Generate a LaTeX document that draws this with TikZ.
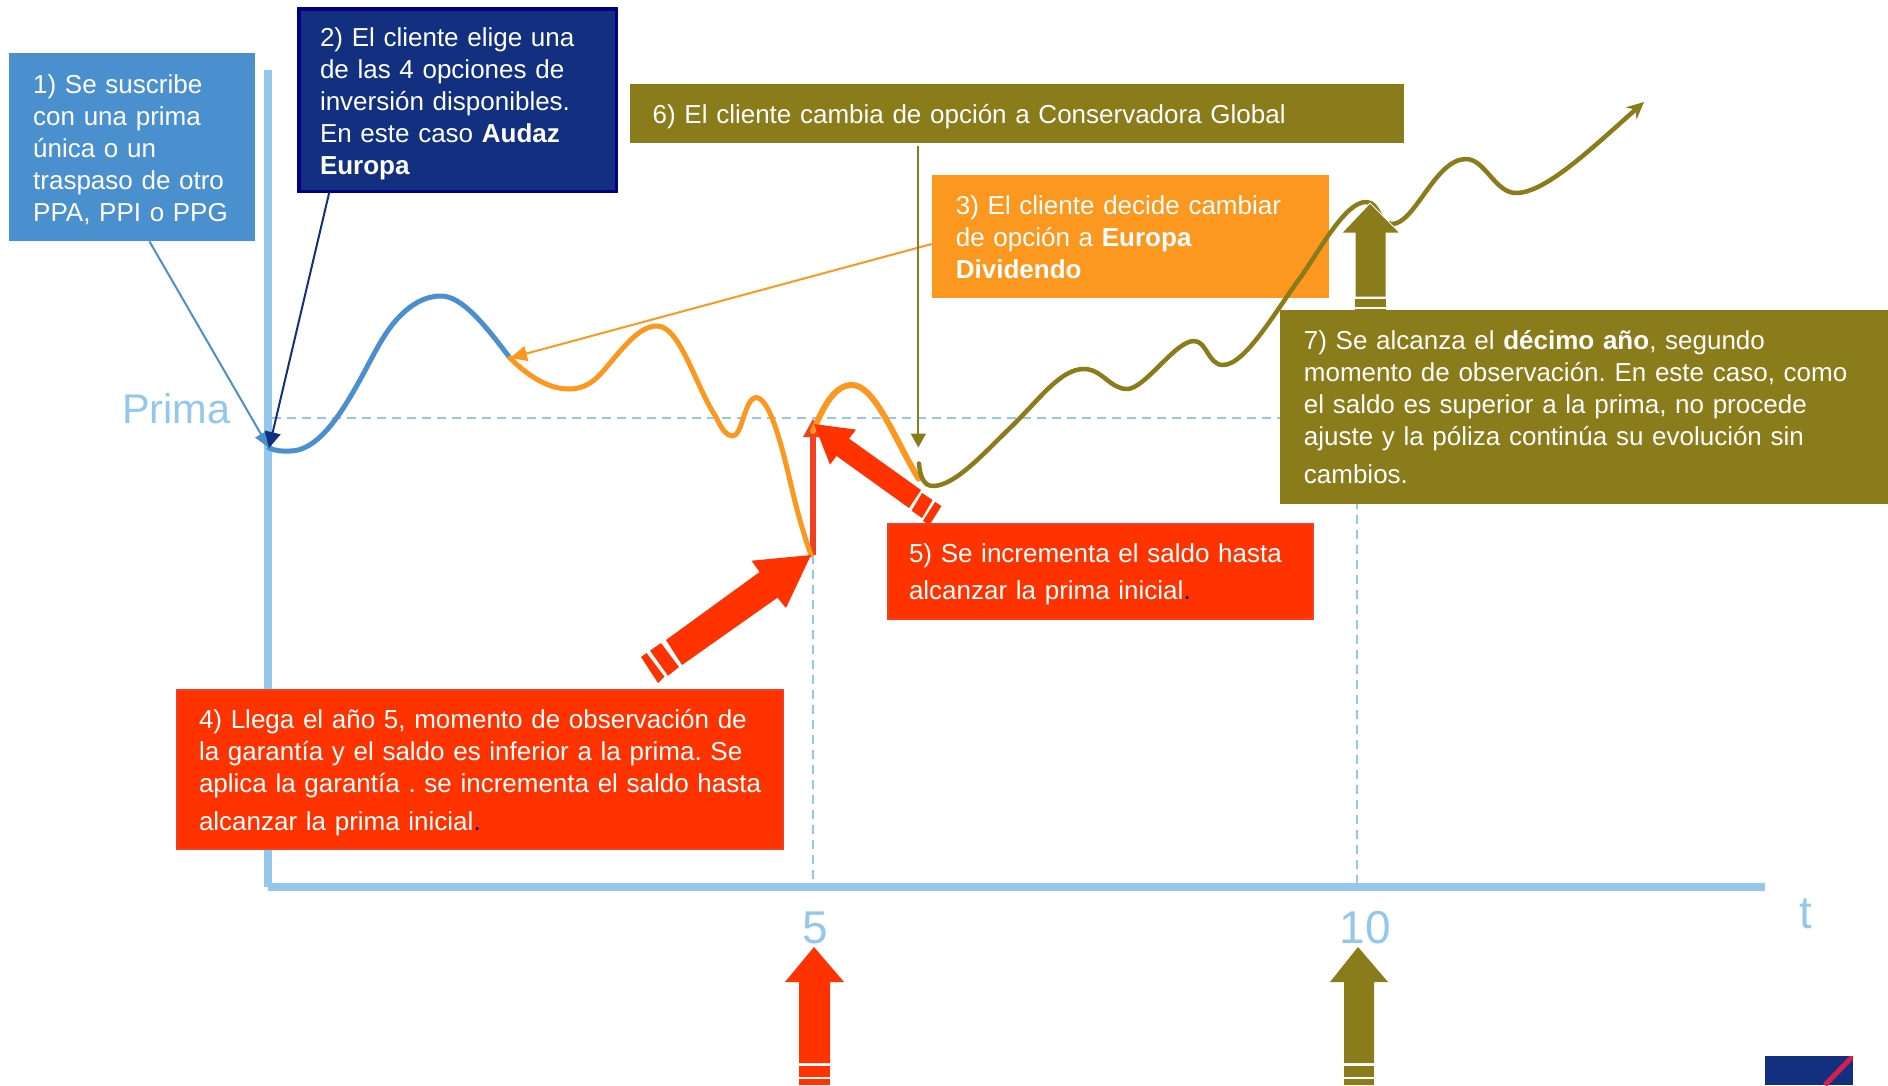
\documentclass[tikz,border=0pt]{standalone}
\usepackage{fontspec}
\setmainfont{Liberation Sans}
\usetikzlibrary{arrows.meta,calc}
\definecolor{axisblue}{HTML}{93C8EC}
\definecolor{boxblue}{HTML}{4B90CE}
\definecolor{navyfill}{HTML}{12307F}
\definecolor{navyline}{HTML}{000080}
\definecolor{olive}{HTML}{8A7C1A}
\definecolor{orangebox}{HTML}{FC9820}
\definecolor{redbox}{HTML}{FF3300}
\definecolor{redline}{HTML}{F04020}
\definecolor{logored}{HTML}{D5204F}
\newcommand{\topstrut}[1]{\rule{0pt}{#1pt}}
\newcommand{\botstrut}[1]{\rule[-#1pt]{0pt}{#1pt}}
\newcommand{\navydot}{\textcolor{navyline}{.}}
\tikzset{
  textbox/.style={anchor=north west,inner ysep=0pt,inner xsep=24pt,align=left,text=white,
    font=\fontsize{26}{32}\selectfont\frenchspacing},
  axisline/.style={draw=axisblue,line width=7.5pt},
  guide/.style={draw=axisblue,line width=1.5pt,dash pattern=on 9pt off 6pt},
  axislabel/.style={text=axisblue,font=\fontsize{46}{46}\selectfont,inner sep=0pt,anchor=base},
  curve/.style={line width=4.5pt,line cap=round,line join=round},
  link/.style={line width=2pt},
  bigred/.style={fill=redbox},
  bigolive/.style={fill=olive},
}
\begin{document}
\begin{tikzpicture}[x=1pt,y=-1pt]
\useasboundingbox (0,0) rectangle (1888,1085);

% axes and guides
\draw[axisline] (268,70) -- (268,887);
\draw[axisline] (268,887) -- (1765,887);
\draw[guide] (272,418) -- (1285,418);
\draw[guide] (813,555) -- (813,885);
\draw[guide] (1357,500) -- (1357,885);

\node[axislabel,font=\fontsize{41.5}{41.5}\selectfont,anchor=base west] (prima) at (122,423) {Prima};
\node[axislabel] (five) at (815,943) {5};
\node[axislabel] (ten) at (1365,943) {10};
\node[axislabel] (tee) at (1806,928) {t};

% upper boxes
\node[textbox,fill=boxblue,text width=198pt] (b1) at (9,53) {\topstrut{40}1) Se suscribe\\con una prima\\única o un\\traspaso de otro\\\mbox{PPA, PPI o PPG}\botstrut{20}};
\node[textbox,fill=navyfill,draw=navyline,line width=3.5pt,inner xsep=21.25pt,text width=275pt] (b2) at (297,7) {\topstrut{38}2) El cliente elige una\\de las 4 opciones de\\inversión disponibles.\\En este caso \textbf{Audaz}\\\textbf{Europa}\botstrut{16.5}};
\node[textbox,fill=olive,text width=728pt,inner xsep=23pt] (b6) at (629.5,83.6) {\topstrut{39.5}6) El cliente cambia de opción a Conservadora Global\botstrut{19.5}};
\node[textbox,fill=orangebox,text width=349pt] (b3) at (931.7,174.6) {\topstrut{39.5}3) El cliente decide cambiar\\de opción a \textbf{Europa}\\\textbf{Dividendo}\botstrut{19.5}};

% price curves
\coordinate (start) at (269,448);
\coordinate (chg1) at (510,358);
\coordinate (low5) at (811,555);
\coordinate (rise5) at (813,431);
\coordinate (chg2) at (918.6,478.6);
\coordinate (chg2b) at (919,463.5);
\coordinate (end) at (1644,102);

% red vertical jump
\draw[redline,line width=6pt] (812.5,555) -- (812.5,432);
\fill[redline] (813,419) -- (823,437) -- (803,437) -- cycle;

\draw[boxblue,curve,line width=5pt] (start)
  .. controls (276,451) and (283,451.5) .. (290,451)
  .. controls (322,451) and (348,402) .. (367,367)
  .. controls (379,344) and (388,328) .. (400,316)
  .. controls (412,304) and (425,296) .. (441,296)
  .. controls (462,296) and (485,325) .. (chg1);
\draw[orangebox,curve,line width=5pt] (chg1)
  .. controls (530,378) and (550,389) .. (569,389)
  .. controls (585,389) and (595,381) .. (605,369)
  .. controls (625,345) and (640,326) .. (657,326)
  .. controls (680,326) and (695,385) .. (716,417)
  .. controls (722,430) and (727,436) .. (733,436)
  .. controls (742,436) and (745,397.5) .. (756,397.5)
  .. controls (772,397.5) and (786,465) .. (792,489)
  .. controls (798,515) and (804,535) .. (low5);
\draw[orangebox,curve,line width=6pt] (rise5)
  .. controls (824,405) and (835,385) .. (852,385)
  .. controls (875,385) and (895,440) .. (chg2);
\draw[olive,curve,-{Stealth[length=17pt,width=16pt]}] (chg2b)
  .. controls (920,475) and (923,486) .. (933,486)
  .. controls (955,486) and (985,452) .. (1010,428)
  .. controls (1040,399) and (1060,369) .. (1084,369)
  .. controls (1102,369) and (1110,389) .. (1127,389)
  .. controls (1145,389) and (1175,341) .. (1194,341)
  .. controls (1207,341) and (1208,365) .. (1223,365)
  .. controls (1245,365) and (1275,312) .. (1300,278)
  .. controls (1320,250) and (1345,202) .. (1366,202)
  .. controls (1380,202) and (1378,224) .. (1392,224)
  .. controls (1415,224) and (1435,159) .. (1466,159)
  .. controls (1485,159) and (1495,193) .. (1516,193)
  .. controls (1545,193) and (1590,150) .. (end);

% connectors
\draw[boxblue,link,-{Triangle[length=16pt,width=13pt]}] ($(b1.south west)!0.57!(b1.south east)$) -- (start);
\draw[navyfill,link,-{Triangle[length=16pt,width=16pt]}] ($(b2.south west)!0.10!(b2.south east)$) -- (start);
\draw[orangebox,link,-{Triangle[length=17pt,width=15pt]}] (b3.west |- 0,244) -- (chg1);
\coordinate (olivetop) at ($(b6.south west)!0.373!(b6.south east)+(0,3)$);
\draw[olive,link,-{Triangle[length=14pt,width=15pt]}] (olivetop) -- (olivetop |- 0,447.5);

% big arrows
\fill[bigred] (811,555) -- (751.5,560.7) -- (759.6,572) -- (666,640) -- (682,665) -- (777.4,597.7) -- (786,608) -- cycle;
\fill[bigred] (661,643) -- (679,667) -- (668,675.7) -- (650,650.7) -- cycle;
\fill[bigred] (646.6,653) -- (664.5,676.7) -- (658,683) -- (641,657) -- cycle;

\fill[bigred] (814,424) -- (856,429.6) -- (849,438.6) -- (921,490) -- (909,508) -- (836.6,456) -- (830,464.6) -- cycle;
\fill[bigred] (922,493) -- (932.6,500) -- (922,518) -- (911.6,510.7) -- cycle;
\fill[bigred] (935,502) -- (941.5,506) -- (929.5,525) -- (923,521) -- cycle;

\fill[bigolive,draw=white,line width=1pt] (1370,203) -- (1400,233) -- (1386,233) -- (1386,297) -- (1355,297) -- (1355,233) -- (1341.5,233) -- cycle;
\fill[bigolive] (1355,299) rectangle (1386,307);
\fill[bigolive] (1355,309) rectangle (1386,316);

% bottom arrows
\fill[bigred] (814,947) -- (844,982) -- (830,982) -- (830,1063) -- (799,1063) -- (799,982) -- (785,982) -- cycle;
\fill[bigred] (799,1066) rectangle (830,1077);
\fill[bigred] (799,1079) rectangle (830,1085);
\fill[bigolive] (1358,947) -- (1388,982) -- (1374,982) -- (1374,1063) -- (1344,1063) -- (1344,982) -- (1330,982) -- cycle;
\fill[bigolive] (1344,1066) rectangle (1374,1077);
\fill[bigolive] (1344,1079) rectangle (1374,1085);

% lower boxes
\node[textbox,fill=redbox,draw=redline,line width=2pt,inner xsep=21.4pt,text width=382.2pt] (b5) at (886.6,522.5) {\topstrut{38.5}5) Se incrementa el saldo hasta\\[5pt]alcanzar la prima inicial\navydot\botstrut{20}};
\node[textbox,fill=redbox,draw=redline,line width=2pt,inner xsep=22.4pt,text width=561.2pt] (b4) at (175.6,689) {\topstrut{38.7}4) Llega el año 5, momento de observación de\\la garantía y el saldo es inferior a la prima. Se\\\mbox{aplica la garantía . se incrementa el saldo hasta}\\[6pt]alcanzar la prima inicial\navydot\botstrut{18.3}};
\node[textbox,fill=olive,text width=560.3pt] (b7) at (1279.7,310) {\topstrut{39}7) Se alcanza el \textbf{décimo año}, segundo\\momento de observación. En este caso, como\\el saldo es superior a la prima, no procede\\ajuste y la póliza continúa su evolución sin\\[6pt]cambios.\botstrut{21}};

% logo
\begin{scope}
\clip (1765,1056) rectangle (1853,1085);
\fill[navyfill] (1765,1056) rectangle (1853,1085);
\draw[logored,line width=5pt] (1853,1056) -- (1825,1085);
\end{scope}
\end{tikzpicture}
\end{document}
